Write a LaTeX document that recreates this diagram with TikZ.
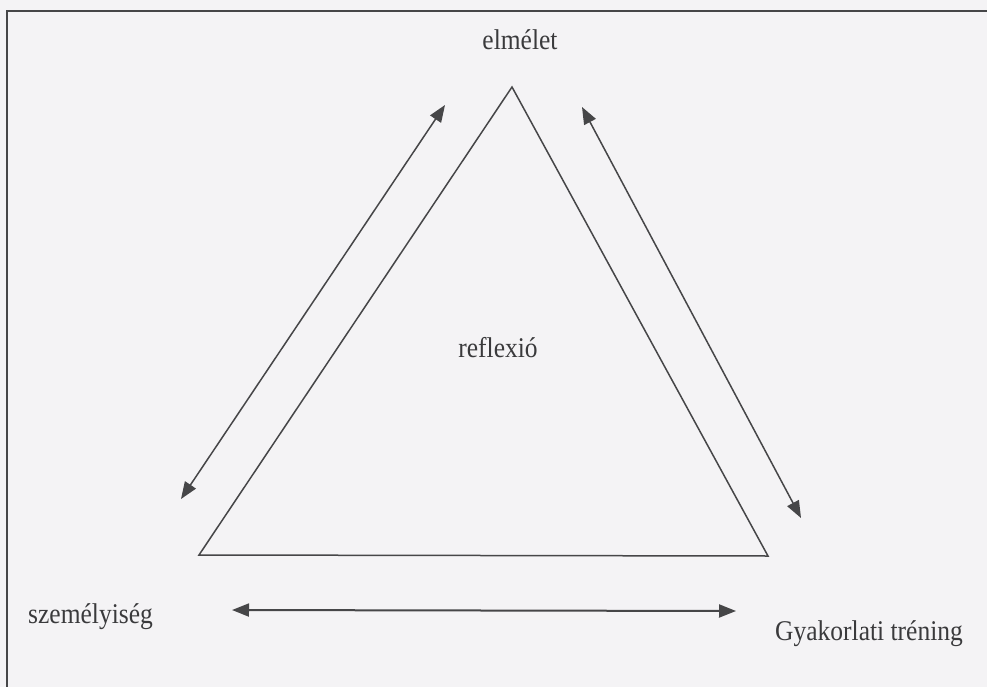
\documentclass[tikz,border=0pt]{standalone}
\usepackage{fontspec}
\setmainfont{Liberation Serif}
\usetikzlibrary{arrows.meta}
\definecolor{paper}{RGB}{244,243,245}
\definecolor{ink}{RGB}{58,58,60}
\definecolor{linec}{RGB}{70,70,72}
\begin{document}
\begin{tikzpicture}[x=1pt,y=-1pt,
  lbl/.style={text=ink,font=\fontsize{25.5}{30}\selectfont,inner sep=0pt,yscale=1.12},
  edge/.style={draw=linec,line width=1.5pt},
  dbl/.style={edge,{Triangle[length=17pt,width=13pt]}-{Triangle[length=17pt,width=13pt]}}]
\fill[paper] (0,0) rectangle (987,687);
\useasboundingbox (0,0) rectangle (987,687);
% frame
\draw[draw=linec,line width=1.8pt] (7,687) -- (7,11) -- (987,11);
% triangle
\coordinate (top) at (512,87);
\coordinate (bl) at (199,555);
\coordinate (br) at (768,556);
\draw[edge,line join=miter] (top) -- (bl) -- (br) -- cycle;
% arrow end points
\coordinate (la1) at (445,105);
\coordinate (la2) at (181,499);
\coordinate (ra1) at (582,107);
\coordinate (ra2) at (801,518);
\coordinate (ba1) at (232,610);
\coordinate (ba2) at (736,611);
\draw[dbl] (la1) -- (la2);
\draw[dbl] (ra1) -- (ra2);
\draw[dbl,line width=2pt] (ba1) -- (ba2);
% labels
\node[lbl] (elm) at (520,40) {elmélet};
\node[lbl] (refl) at (498,348) {reflexió};
\node[lbl,anchor=west] (szem) at (28,617) {személyiség};
\node[lbl,anchor=west] (gyak) at (775,634) {Gyakorlati tréning};
\end{tikzpicture}
\end{document}
